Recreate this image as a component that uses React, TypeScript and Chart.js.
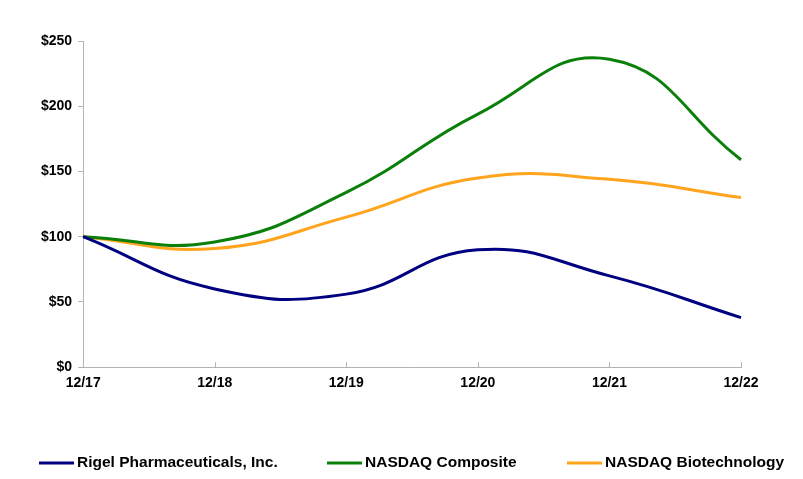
import React, { useEffect, useRef } from "react";
import { Chart, registerables } from "chart.js";

Chart.register(...registerables);

const categories = ["12/17", "12/18", "12/19", "12/20", "12/21", "12/22"];
const rigel = [100, 60, 56, 90, 70, 38];
const nasdaqComposite = [100, 96, 134, 194, 236, 159];
const nasdaqBiotech = [100, 91, 115, 145, 144, 130];

const FONT = "'Liberation Sans', Arial, sans-serif";
const AXIS_COLOR = "#b3b3b3";
const legendStarts = [39, 327, 567];

const innerTicks = {
  id: "innerTicks",
  afterDraw(chart: any) {
    const x = chart.scales.x;
    const area = chart.chartArea;
    const ctx = chart.ctx;
    ctx.save();
    ctx.strokeStyle = AXIS_COLOR;
    ctx.lineWidth = 1;
    x.ticks.forEach((_t: any, i: number) => {
      const px = Math.round(x.getPixelForTick(i)) + 0.5;
      ctx.beginPath();
      ctx.moveTo(px, area.bottom);
      ctx.lineTo(px, area.bottom - 5);
      ctx.stroke();
    });
    ctx.restore();
  },
};

const customLegend = {
  id: "customLegend",
  afterDraw(chart: any) {
    const ctx = chart.ctx;
    const y = 463;
    ctx.save();
    ctx.font = "bold 15.5px " + FONT;
    ctx.textBaseline = "middle";
    ctx.textAlign = "left";
    chart.data.datasets.forEach((ds: any, i: number) => {
      const x0 = legendStarts[i];
      ctx.strokeStyle = ds.borderColor;
      ctx.lineWidth = 3;
      ctx.beginPath();
      ctx.moveTo(x0, y);
      ctx.lineTo(x0 + 35, y);
      ctx.stroke();
      ctx.fillStyle = "#000";
      ctx.fillText(ds.label, x0 + 38, y);
    });
    ctx.restore();
  },
};

export default function App() {
  const ref = useRef<HTMLCanvasElement>(null);
  useEffect(() => {
    const chart = new Chart(ref.current!, {
      type: "line",
      data: {
        labels: categories,
        datasets: [
          { label: "Rigel Pharmaceuticals, Inc.", data: rigel, borderColor: "#000080", backgroundColor: "#000080" },
          { label: "NASDAQ Composite", data: nasdaqComposite, borderColor: "#0a800a", backgroundColor: "#0a800a" },
          { label: "NASDAQ Biotechnology", data: nasdaqBiotech, borderColor: "#ffa41c", backgroundColor: "#ffa41c" },
        ],
      },
      options: {
        animation: false,
        responsive: false,
        maintainAspectRatio: false,
        elements: {
          line: { borderWidth: 3, tension: 0.45 },
          point: { radius: 0 },
        },
        layout: { padding: { left: 35, right: 62, top: 41, bottom: 79 } },
        plugins: {
          tooltip: { enabled: false },
          legend: { display: false },
        },
        scales: {
          x: {
            offset: false,
            grid: { display: true, drawOnChartArea: false, drawTicks: false, color: AXIS_COLOR },
            border: { color: AXIS_COLOR },
            ticks: { color: "#000", padding: 8, maxRotation: 0, font: { family: FONT, size: 14, weight: "bold" } },
          },
          y: {
            min: 0,
            max: 250,
            grid: { display: true, drawOnChartArea: false, tickLength: 5, color: AXIS_COLOR },
            border: { color: AXIS_COLOR },
            ticks: {
              stepSize: 50,
              padding: 6,
              color: "#000",
              font: { family: FONT, size: 14, weight: "bold" },
              callback: (v: any) => "$" + v,
            },
          },
        },
      },
      plugins: [innerTicks, customLegend],
    });
    return () => chart.destroy();
  }, []);
  return (
    <div style={{ position: "fixed", left: 0, top: 0, width: 803, height: 479, background: "#fff" }}>
      <canvas ref={ref} width={803} height={479} style={{ width: 803, height: 479 }} />
    </div>
  );
}
